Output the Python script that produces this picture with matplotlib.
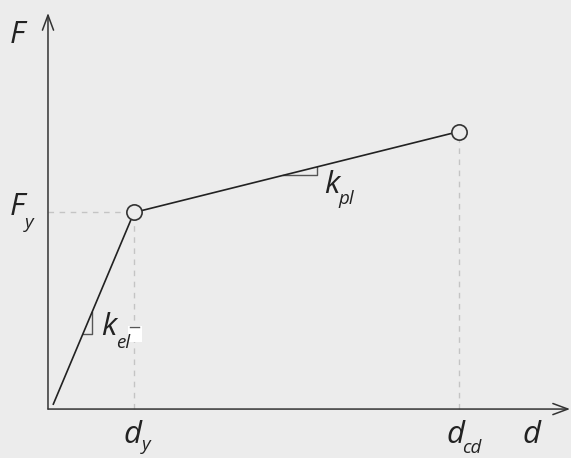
import numpy as np
import matplotlib.pyplot as plt
from matplotlib.patches import Rectangle

# bilinear force-displacement curve, normalised so d_y = 1 and F_y = 1
d_curve = [0.062, 1.0, 4.78]
F_curve = [0.025, 1.0, 1.412]
d_y, F_y = 1.0, 1.0
d_cd, F_cd = 4.78, 1.412

# where the slope triangles sit (d values along each branch)
kel_span = [0.407, 0.512]
kpl_span = [2.733, 3.128]

bg = '#ececec'
ink = '#222222'
it_font = dict(family=['Open Sans', 'DejaVu Sans'], style='italic', color=ink)

fig = plt.figure(figsize=(5.71, 4.58), dpi=100, facecolor=bg)
ax = fig.add_axes([0, 0, 1, 1])
ax.set_facecolor(bg)
ax.set_xlim(-0.558, 6.081)
ax.set_ylim(-0.249, 2.081)
ax.axis('off')

# axes with open arrow heads
arrow = dict(arrowstyle='->,head_length=1.08,head_width=0.4', lw=1.1, color='#333333',
             shrinkA=0, shrinkB=0, mutation_scale=10)
ax.annotate('', xy=(6.07, 0), xytext=(0, 0), arrowprops=arrow)
ax.annotate('', xy=(0, 2.015), xytext=(0, 0), arrowprops=arrow)

# guide lines
guide = dict(color='#c4c4c4', lw=1, ls=(0, (4, 4)), zorder=1)
ax.plot([0, d_y], [F_y, F_y], **guide)
ax.plot([d_y, d_y], [0, F_y], **guide)
ax.plot([d_cd, d_cd], [0, F_cd], **guide)

# the curve
ax.plot(d_curve, F_curve, color=ink, lw=1.2, zorder=3)
ax.plot([d_y, d_cd], [F_y, F_cd], ls='none', marker='o', ms=11,
        mfc=bg, mec='#333333', mew=1.2, zorder=4)

# slope triangles
def slope_triangle(span):
    y0, y1 = np.interp(span, d_curve, F_curve)
    ax.plot([span[0], span[1], span[1]], [y0, y0, y1], color='#555555', lw=1, zorder=2)

slope_triangle(kel_span)
slope_triangle(kpl_span)

# labels
def label(x, y, main, sub, sx, sy):
    ax.text(x, y, main, fontsize=22.5, ha='center', va='baseline', zorder=6, **it_font)
    if sub:
        ax.text(sx, sy, sub, fontsize=13.5, ha='left', va='baseline', zorder=6, **it_font)

label(-0.36, 1.863, 'F', None, 0, 0)
label(-0.36, 0.987, 'F', 'y', -0.27, 0.921)
label(0.988, -0.173, 'd', 'y', 1.09, -0.206)
label(4.733, -0.173, 'd', 'cd', 4.82, -0.224)
label(5.616, -0.173, 'd', None, 0, 0)
label(3.302, 1.099, 'k', 'pl', 3.38, 1.043)
label(0.71, 0.379, 'k', 'el', 0.795, 0.312)

# small white patch next to k_el
ax.add_patch(Rectangle((0.935, 0.342), 0.155, 0.08, facecolor='white', edgecolor='none', zorder=5))
ax.plot([0.95, 1.06], [0.415, 0.415], color='#555555', lw=1, zorder=5)

fig.savefig('out.png', dpi=100, facecolor=bg)
